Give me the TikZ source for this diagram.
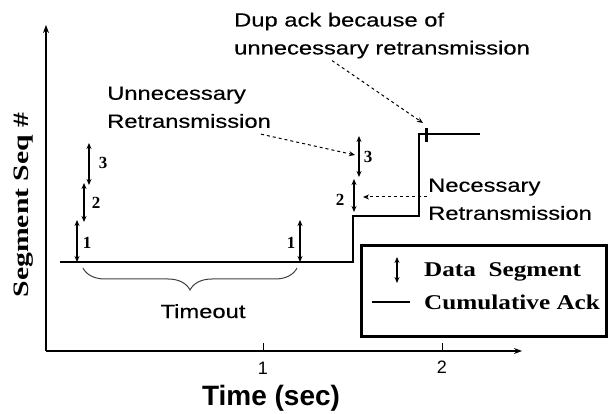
\documentclass[tikz,border=0pt]{standalone}
\usepackage{fontspec}
\setmainfont{Liberation Serif}
\newfontfamily\notefont[FakeStretch=1.25,FakeBold=0.4]{Liberation Sans}
\newfontfamily\axisfont{Liberation Sans}
\newfontfamily\legfont[FakeStretch=1.2]{Liberation Serif}
\newfontfamily\ylabfont[FakeStretch=1.35]{Liberation Serif}
\usetikzlibrary{arrows.meta,decorations.pathreplacing}
\tikzset{
  axis/.style={line width=2pt,-{Stealth[length=8pt,width=6pt]}},
  ack/.style={line width=1.5pt},
  seg/.style={line width=1.4pt,{Stealth[length=6pt,width=5pt]}-{Stealth[length=6pt,width=5pt]}},
  note/.style={dashed,line width=1pt,-{Stealth[length=6pt,width=5pt]}},
  notetext/.style={font=\notefont\fontsize{19}{28}\selectfont,align=left,inner sep=0pt},
  seglabel/.style={font=\bfseries\fontsize{17}{17}\selectfont,inner sep=0pt},
  ticklabel/.style={font=\axisfont\fontsize{18}{18}\selectfont,inner sep=0pt,anchor=base},
  legtext/.style={font=\legfont\bfseries\fontsize{21}{21}\selectfont,inner sep=0pt,anchor=west},
}
\begin{document}
\begin{tikzpicture}[x=1pt,y=-1pt]
  \useasboundingbox (0,0) rectangle (608,414);
  % axes
  \coordinate (o) at (46,351);
  \coordinate (ytop) at (46,25);
  \coordinate (xend) at (522,351);
  \coordinate (t1) at (263,351);
  \coordinate (t2) at (442,351);
  \draw[axis] (o) -- (ytop);
  \draw[axis] (o) -- (xend);
  \draw[line width=1pt] (t1) -- ++(0,-8);
  \draw[line width=1pt] (t2) -- ++(0,-8);
  \node[ticklabel] (l1) at (263,374) {1};
  \node[ticklabel] (l2) at (442,373) {2};
  \node[font=\axisfont\bfseries\fontsize{28}{28}\selectfont,anchor=base,inner sep=0pt] (xlab) at (271,405) {Time (sec)};
  \node[rotate=90,font=\ylabfont\bfseries\fontsize{22}{22}\selectfont,inner sep=0pt] (ylab) at (24,205) {Segment Seq \#};
  % cumulative ack
  \coordinate (a0) at (60,262);
  \coordinate (a1) at (353,262);
  \coordinate (a2) at (353,216);
  \coordinate (a3) at (419,216);
  \coordinate (a4) at (419,134);
  \coordinate (a5) at (480,134);
  \draw[ack] (a0) -- (a1) -- (a2) -- (a3) -- (a4) -- (a5);
  \coordinate (dupA) at (426,128);
  \coordinate (dupB) at (426,142);
  \draw[line width=3pt] (dupA) -- (dupB);
  % data segments
  \coordinate (s1a) at (77,262);  \coordinate (s1b) at (77,220);
  \coordinate (s2a) at (84,222);  \coordinate (s2b) at (84,183);
  \coordinate (s3a) at (89,185);  \coordinate (s3b) at (89,143);
  \coordinate (r1a) at (300,262); \coordinate (r1b) at (300,220);
  \coordinate (r2a) at (354,212); \coordinate (r2b) at (354,179);
  \coordinate (r3a) at (359,177); \coordinate (r3b) at (359,136);
  \begin{scope}[seg]
    \draw (s1a) -- (s1b);
    \draw (s2a) -- (s2b);
    \draw (s3a) -- (s3b);
    \draw (r1a) -- (r1b);
    \draw (r2a) -- (r2b);
    \draw (r3a) -- (r3b);
  \end{scope}
  \node[seglabel] (n1) at (87,243) {1};
  \node[seglabel] (n2) at (96,203) {2};
  \node[seglabel] (n3) at (103,163) {3};
  \node[seglabel] (m1) at (291,243) {1};
  \node[seglabel] (m2) at (340,200) {2};
  \node[seglabel] (m3) at (368,157) {3};
  % timeout
  \coordinate (b0) at (83,268);
  \coordinate (b1) at (297,268);
  \draw[decorate,decoration={brace,amplitude=22pt,mirror},line width=1pt,black!75] (b0) -- (b1);
  \node[notetext,anchor=base] (tout) at (203,318) {Timeout};
  % notes
  \node[notetext,anchor=north west] (unnec) at (107,86.5) {Unnecessary\\Retransmission};
  \node[notetext,anchor=north west] (nec) at (428,178.5) {Necessary\\Retransmission};
  \node[notetext,anchor=north west] (dup) at (234,12.5) {Dup ack because of\\unnecessary retransmission};
  \coordinate (u3) at (355,155);
  \coordinate (q2) at (363,197);
  \coordinate (d1) at (423,123);
  \draw[note] ([xshift=-10pt,yshift=-6pt]unnec.south east) -- (u3);
  \draw[note] ([xshift=-1pt,yshift=-18.5pt]nec.north west) -- (q2);
  \draw[note] ([xshift=-50pt,yshift=-2pt]dup.south) -- (d1);
  % legend
  \draw[line width=3pt] (361,246) rectangle (606,336);
  \coordinate (ga) at (397,283); \coordinate (gb) at (397,257);
  \coordinate (ha) at (372,302); \coordinate (hb) at (410,302);
  \draw[seg] (ga) -- (gb);
  \draw[ack] (ha) -- (hb);
  \node[legtext] (gdata) at (424,272) {Data\ \ Segment};
  \node[legtext] (gack) at (424,302) {Cumulative Ack};
\end{tikzpicture}
\end{document}
